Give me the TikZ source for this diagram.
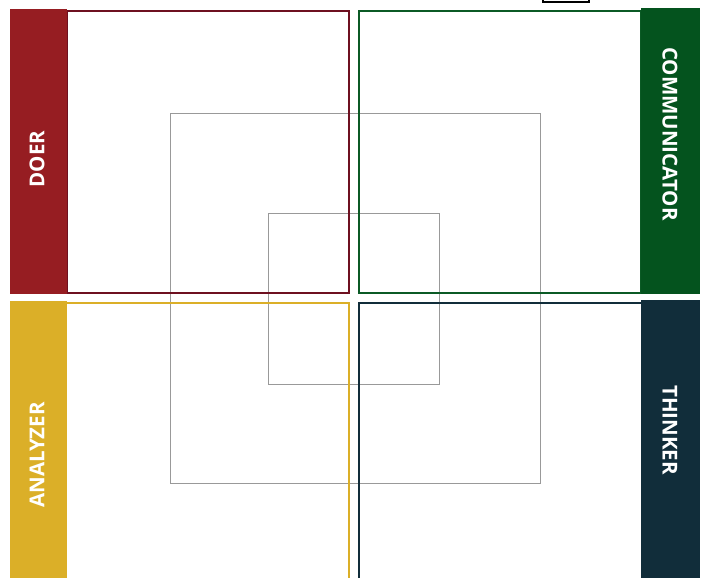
\documentclass[tikz,border=0pt]{standalone}
\usepackage{fontspec}
\setmainfont{Open Sans}
\definecolor{doer}{HTML}{961D22}
\definecolor{doerline}{HTML}{6E1020}
\definecolor{comm}{HTML}{04531E}
\definecolor{commline}{HTML}{0B5A25}
\definecolor{anal}{HTML}{DBAF28}
\definecolor{think}{HTML}{112D3A}
\definecolor{thinkline}{HTML}{1B3B4A}
\begin{document}
\begin{tikzpicture}[x=1pt,y=-1pt,
  quad/.style={line width=2.8pt},
  guide/.style={draw=gray!80,line width=1pt},
  label/.style={text=white,font=\fontsize{20.5}{20.5}\selectfont\bfseries,inner sep=0pt}]
\useasboundingbox[fill=white] (0,0) rectangle (707,578);
% gray squares
\draw[guide] (170,113) rectangle (540,483);
\draw[guide] (268,213) rectangle (439,384);
% quadrant outlines
\draw[quad,draw=doerline] (67,11) rectangle (349,293);
\draw[quad,draw=commline] (359,11) rectangle (641,293);
\draw[quad,draw=anal] (67,303) -- (349,303) -- (349,585);
\draw[quad,draw=think] (359,585) -- (359,303) -- (641,303);
% bars
\fill[doer] (10,9) rectangle (67,294);
\fill[anal] (10,301) rectangle (67,578);
\fill[comm] (641,8) rectangle (700,294);
\fill[think] (641,300) rectangle (700,578);
% small box at top
\draw[line width=1.5pt] (543,-5) rectangle (589,2);
% labels
\node[label,rotate=90] (doer) at (37,159) {DOER};
\node[label,rotate=90] (analyzer) at (37,455) {ANALYZER};
\node[label,rotate=-90] (communicator) at (670,134) {COMMUNICATOR};
\node[label,rotate=-90] (thinker) at (670,430) {THINKER};
\end{tikzpicture}
\end{document}
